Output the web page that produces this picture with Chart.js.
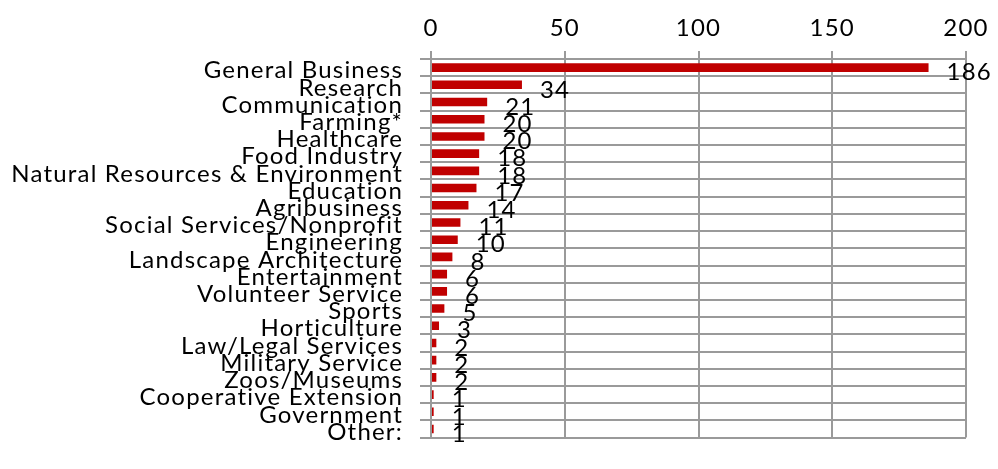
<!DOCTYPE html>
<html>
<head>
<meta charset="utf-8">
<script src="https://cdn.jsdelivr.net/npm/chart.js@4.4.0/dist/chart.umd.min.js"></script>
<style>
    html, body { margin: 0; padding: 0; background: #fff; }
    #wrap { width: 998px; height: 469px; }
</style>
</head>
<body>
<div id="wrap"><canvas id="myChart"></canvas></div>
<script>
// categories and counts
var categories = ['General Business', 'Research', 'Communication', 'Farming*', 'Healthcare',
    'Food Industry', 'Natural Resources & Environment', 'Education', 'Agribusiness',
    'Social Services/Nonprofit', 'Engineering', 'Landscape Architecture', 'Entertainment',
    'Volunteer Service', 'Sports', 'Horticulture', 'Law/Legal Services', 'Military Service',
    'Zoos/Museums', 'Cooperative Extension', 'Government', 'Other:'];
var counts = [186, 34, 21, 20, 20, 18, 18, 17, 14, 11, 10, 8, 6, 6, 5, 3, 2, 2, 2, 1, 1, 1];
var xTicks = [0, 50, 100, 150, 200];

var FONT = 'Lato';
var gridColor = '#9a9a9a';

// the original text is a bit wider, so spread the letters slightly
var spacing = {
    id: 'spacing',
    beforeDraw: function (chart) {
        chart.ctx.letterSpacing = '1.2px';
    }
};

// value labels next to each bar, a bit below the bar centre
var valueLabels = {
    id: 'valueLabels',
    afterDatasetsDraw: function (chart) {
        var ctx = chart.ctx;
        var meta = chart.getDatasetMeta(0);
        ctx.save();
        ctx.font = '24px ' + FONT;
        ctx.fillStyle = '#000';
        ctx.textAlign = 'left';
        ctx.textBaseline = 'middle';
        meta.data.forEach(function (bar, i) {
            ctx.fillText(String(counts[i]), bar.x + 18, bar.y + 5);
        });
        ctx.restore();
    }
};

var ctx = document.getElementById('myChart').getContext('2d');
var chart = new Chart(ctx, {
    type: 'bar',
    data: {
        labels: categories,
        datasets: [{
            data: counts,
            backgroundColor: '#c00000',
            barPercentage: 0.5,
            categoryPercentage: 1.0
        }]
    },
    options: {
        indexAxis: 'y',
        responsive: true,
        maintainAspectRatio: false,
        animation: false,
        layout: { padding: { left: 0, right: 32, top: 0, bottom: 4 } },
        plugins: {
            legend: { display: false },
            tooltip: { enabled: false }
        },
        scales: {
            x: {
                position: 'top',
                min: 0,
                max: 200,
                afterBuildTicks: function (scale) {
                    scale.ticks = xTicks.map(function (v) { return { value: v }; });
                },
                afterFit: function (scale) { scale.height = 59; },
                grid: { color: gridColor, lineWidth: 2, tickLength: 8 },
                border: { color: gridColor, width: 2 },
                ticks: {
                    color: '#000',
                    padding: 8,
                    maxRotation: 0,
                    font: { family: FONT, size: 24 }
                }
            },
            y: {
                afterFit: function (scale) { scale.width = 431; },
                grid: { color: gridColor, lineWidth: 2, tickLength: 11, offset: true },
                border: { color: gridColor, width: 2 },
                ticks: {
                    color: '#000',
                    padding: 17,
                    autoSkip: false,
                    labelOffset: 3,
                    font: { family: FONT, size: 24 }
                }
            }
        }
    },
    plugins: [spacing, valueLabels]
});
</script>
</body>
</html>
